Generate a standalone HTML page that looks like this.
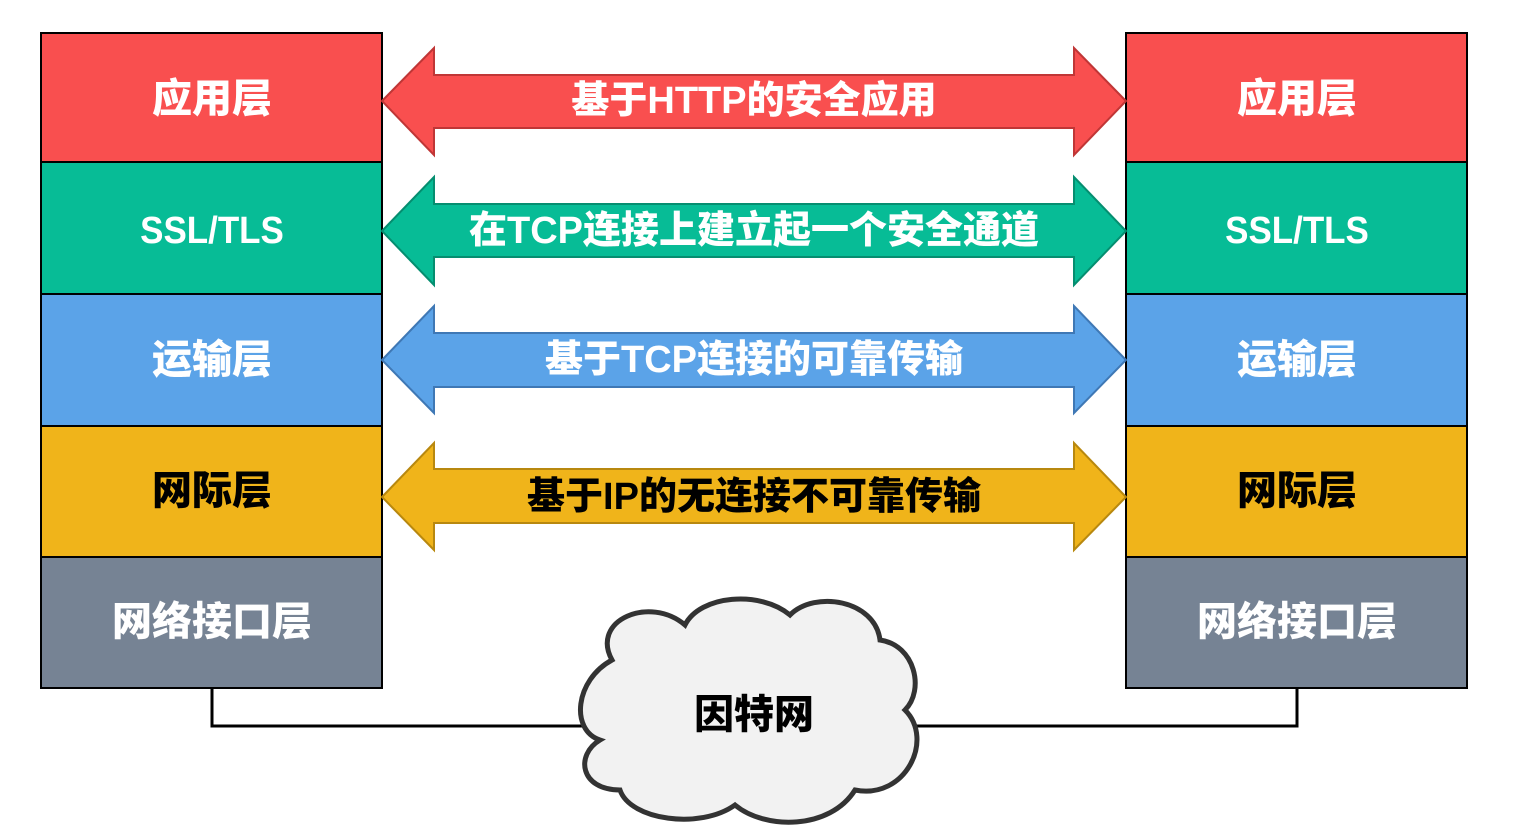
<!DOCTYPE html>
<html><head><meta charset="utf-8"><style>
html,body{margin:0;padding:0;background:#fff;}
svg{display:block}
text{font-family:"Liberation Sans","Noto Sans CJK SC",sans-serif;font-weight:900;text-anchor:middle;dominant-baseline:central}
</style></head><body>
<svg width="1526" height="840" viewBox="0 0 1526 840" xmlns="http://www.w3.org/2000/svg">
<polyline points="212,688 212,726 600,726" fill="none" stroke="#000" stroke-width="3"/>
<polyline points="1297,688 1297,726 910,726" fill="none" stroke="#000" stroke-width="3"/>
<g stroke="#000" stroke-width="2">
<rect x="41" y="33" width="341" height="129" fill="#F94F4F"/>
<rect x="41" y="162" width="341" height="132" fill="#07BC96"/>
<rect x="41" y="294" width="341" height="132" fill="#5BA3E8"/>
<rect x="41" y="426" width="341" height="131" fill="#F0B41A"/>
<rect x="41" y="557" width="341" height="131" fill="#768394"/>
<rect x="1126" y="33" width="341" height="129" fill="#F94F4F"/>
<rect x="1126" y="162" width="341" height="132" fill="#07BC96"/>
<rect x="1126" y="294" width="341" height="132" fill="#5BA3E8"/>
<rect x="1126" y="426" width="341" height="131" fill="#F0B41A"/>
<rect x="1126" y="557" width="341" height="131" fill="#768394"/>
</g>
<polygon points="382,101 434,48 434,75 1074,75 1074,48 1126,101 1074,155 1074,128 434,128 434,155" fill="#F94F4F" stroke="#C03636" stroke-width="2"/>
<polygon points="382,231 434,177 434,204 1074,204 1074,177 1126,231 1074,285 1074,257 434,257 434,285" fill="#07BC96" stroke="#058E70" stroke-width="2"/>
<polygon points="382,360 434,306 434,333 1074,333 1074,306 1126,360 1074,413 1074,387 434,387 434,413" fill="#5BA3E8" stroke="#3F78B5" stroke-width="2"/>
<polygon points="382,497 434,443 434,469 1074,469 1074,443 1126,497 1074,550 1074,523 434,523 434,550" fill="#F0B41A" stroke="#B8880F" stroke-width="2"/>
<path d="M612,660 C590,620 650,595 685,625 C700,595 760,590 790,615 C815,590 875,600 880,640 C915,645 925,690 905,710 C935,740 905,800 855,790 C830,830 765,830 735,805 C700,830 630,820 620,790 C580,790 575,755 600,740 C570,730 575,680 612,660 Z" fill="#F2F2F2" stroke="#333" stroke-width="5"/>
<g font-size="40" fill="#fff">
<text x="212" y="99">应用层</text>
<text x="1297" y="99">应用层</text>
<text x="212" y="230" font-size="38" font-weight="normal" transform="translate(212,230) scale(0.92,1) translate(-212,-230)">SSL/TLS</text>
<text x="1297" y="230" font-size="38" font-weight="normal" transform="translate(1297,230) scale(0.92,1) translate(-1297,-230)">SSL/TLS</text>
<text x="212" y="360">运输层</text>
<text x="1297" y="360">运输层</text>
<text x="212" y="622">网络接口层</text>
<text x="1297" y="622">网络接口层</text>
<text x="754" y="101" font-size="38">基于HTTP的安全应用</text>
<text x="754" y="231" font-size="38">在TCP连接上建立起一个安全通道</text>
<text x="754" y="360" font-size="38">基于TCP连接的可靠传输</text>
</g>
<g font-size="40" fill="#000">
<text x="212" y="491">网际层</text>
<text x="1297" y="491">网际层</text>
<text x="754" y="497" font-size="38">基于IP的无连接不可靠传输</text>
<text x="754" y="715">因特网</text>
</g>
</svg>
</body></html>
